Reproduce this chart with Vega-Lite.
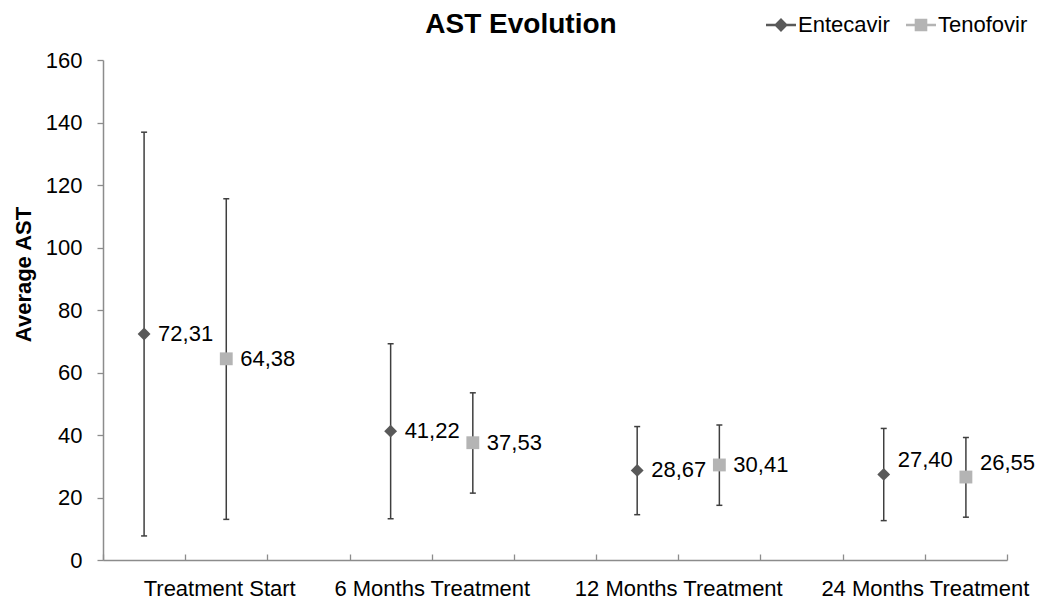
{
  "$schema": "https://vega.github.io/schema/vega-lite/v6.json",
  "width": 904,
  "height": 500,
  "autosize": "none",
  "padding": {"left": 103, "top": 60, "right": 36, "bottom": 42},
  "background": "white",
  "config": {"view": {"stroke": null}, "font": "Liberation Sans"},
  "title": {"text": "AST Evolution", "font": "Liberation Sans", "fontSize": 28, "fontWeight": "bold", "color": "#000000", "anchor": "middle", "frame": "group", "dx": -34, "dy": 28, "offset": -23, "baseline": "alphabetic"},
  "data": {
    "values": [
      {"time": "Treatment Start", "drug": "Entecavir", "pos": 0.5, "mean": 72.31, "lower": 7.7, "upper": 136.9, "label": "72,31"},
      {"time": "Treatment Start", "drug": "Tenofovir", "pos": 1.5, "mean": 64.38, "lower": 13.0, "upper": 115.6, "label": "64,38"},
      {"time": "6 Months Treatment", "drug": "Entecavir", "pos": 3.5, "mean": 41.22, "lower": 13.2, "upper": 69.2, "label": "41,22"},
      {"time": "6 Months Treatment", "drug": "Tenofovir", "pos": 4.5, "mean": 37.53, "lower": 21.4, "upper": 53.5, "label": "37,53"},
      {"time": "12 Months Treatment", "drug": "Entecavir", "pos": 6.5, "mean": 28.67, "lower": 14.5, "upper": 42.7, "label": "28,67"},
      {"time": "12 Months Treatment", "drug": "Tenofovir", "pos": 7.5, "mean": 30.41, "lower": 17.5, "upper": 43.2, "label": "30,41"},
      {"time": "24 Months Treatment", "drug": "Entecavir", "pos": 9.5, "mean": 27.40, "lower": 12.6, "upper": 42.1, "label": "27,40"},
      {"time": "24 Months Treatment", "drug": "Tenofovir", "pos": 10.5, "mean": 26.55, "lower": 13.7, "upper": 39.2, "label": "26,55"}
    ]
  },
  "layer": [
    {
      "mark": {"type": "rule", "color": "#3f3f3f", "strokeWidth": 1.5},
      "encoding": {
        "x": {
          "field": "pos", "type": "quantitative",
          "scale": {"domain": [0, 11], "nice": false, "zero": false},
          "axis": {
            "title": null, "grid": false,
            "values": [0, 1, 2, 3, 4, 5, 6, 7, 8, 9, 10, 11],
            "labelExpr": "datum.value == 1 ? 'Treatment Start' : datum.value == 4 ? '6 Months Treatment' : datum.value == 7 ? '12 Months Treatment' : datum.value == 10 ? '24 Months Treatment' : ''",
            "labelFontSize": 22, "labelColor": "#000000", "labelFont": "Liberation Sans",
            "labelOffset": {"condition": {"test": "datum.value == 1", "value": 34}, "value": 0},
            "labelOverlap": false, "labelFlush": false, "labelBound": false, "labelLimit": 0,
            "labelPadding": 24,
            "tickSize": -6, "tickColor": "#8c8c8c", "tickWidth": 1.3,
            "domainColor": "#8c8c8c", "domainWidth": 1.5
          }
        },
        "y": {
          "field": "lower", "type": "quantitative",
          "scale": {"domain": [0, 160], "nice": false},
          "axis": {
            "title": "Average AST", "titleFontSize": 22, "titleFontWeight": "bold", "titleColor": "#000000", "titleFont": "Liberation Sans", "titlePadding": 10, "titleY": 214,
            "grid": false,
            "values": [0, 20, 40, 60, 80, 100, 120, 140, 160],
            "labelFontSize": 22, "labelColor": "#000000", "labelFont": "Liberation Sans", "labelPadding": 15,
            "tickSize": 6, "tickColor": "#8c8c8c", "tickWidth": 1.3,
            "domainColor": "#8c8c8c", "domainWidth": 1.5
          }
        },
        "y2": {"field": "upper"}
      }
    },
    {
      "mark": {"type": "tick", "orient": "horizontal", "size": 6, "thickness": 1.5, "color": "#3f3f3f", "opacity": 1},
      "encoding": {
        "x": {"field": "pos", "type": "quantitative"},
        "y": {"field": "lower", "type": "quantitative"}
      }
    },
    {
      "mark": {"type": "tick", "orient": "horizontal", "size": 6, "thickness": 1.5, "color": "#3f3f3f", "opacity": 1},
      "encoding": {
        "x": {"field": "pos", "type": "quantitative"},
        "y": {"field": "upper", "type": "quantitative"}
      }
    },
    {
      "mark": {"type": "point", "filled": true, "opacity": 1, "size": 165, "strokeWidth": 0},
      "encoding": {
        "x": {"field": "pos", "type": "quantitative"},
        "y": {"field": "mean", "type": "quantitative"},
        "color": {
          "field": "drug", "type": "nominal",
          "scale": {"domain": ["Entecavir", "Tenofovir"], "range": ["#595959", "#b4b4b4"]},
          "legend": {
            "orient": "none", "legendX": 663, "legendY": -50, "direction": "horizontal",
            "title": null, "padding": 0,
            "labelFontSize": 22, "labelColor": "#000000", "labelFont": "Liberation Sans",
            "labelOffset": 2, "columnPadding": 16,
            "symbolSize": 900, "symbolStrokeWidth": 0, "symbolOpacity": 1,
            "encode": {
              "symbols": {
                "update": {
                  "shape": {"signal": "datum.value == 'Entecavir' ? 'M-1,-0.09H1V0.09H-1Z M0,-0.46L0.46,0L0,0.46L-0.46,0Z' : 'M-1,-0.09H1V0.09H-1Z M-0.42,-0.42H0.42V0.42H-0.42Z'"},
                  "size": {"value": 900},
                  "strokeWidth": {"value": 0}
                }
              }
            }
          }
        },
        "shape": {"condition": {"test": "datum.drug == 'Entecavir'", "value": "diamond"}, "value": "square"}
      }
    },
    {
      "transform": [{"filter": "datum.time != '24 Months Treatment'"}],
      "mark": {"type": "text", "align": "left", "baseline": "middle", "dx": 14, "fontSize": 22, "color": "#000000", "font": "Liberation Sans"},
      "encoding": {
        "x": {"field": "pos", "type": "quantitative"},
        "y": {"field": "mean", "type": "quantitative"},
        "text": {"field": "label", "type": "nominal"}
      }
    },
    {
      "transform": [{"filter": "datum.time == '24 Months Treatment'"}],
      "mark": {"type": "text", "align": "left", "baseline": "middle", "dx": 14, "dy": -14, "fontSize": 22, "color": "#000000", "font": "Liberation Sans"},
      "encoding": {
        "x": {"field": "pos", "type": "quantitative"},
        "y": {"field": "mean", "type": "quantitative"},
        "text": {"field": "label", "type": "nominal"}
      }
    }
  ]
}
